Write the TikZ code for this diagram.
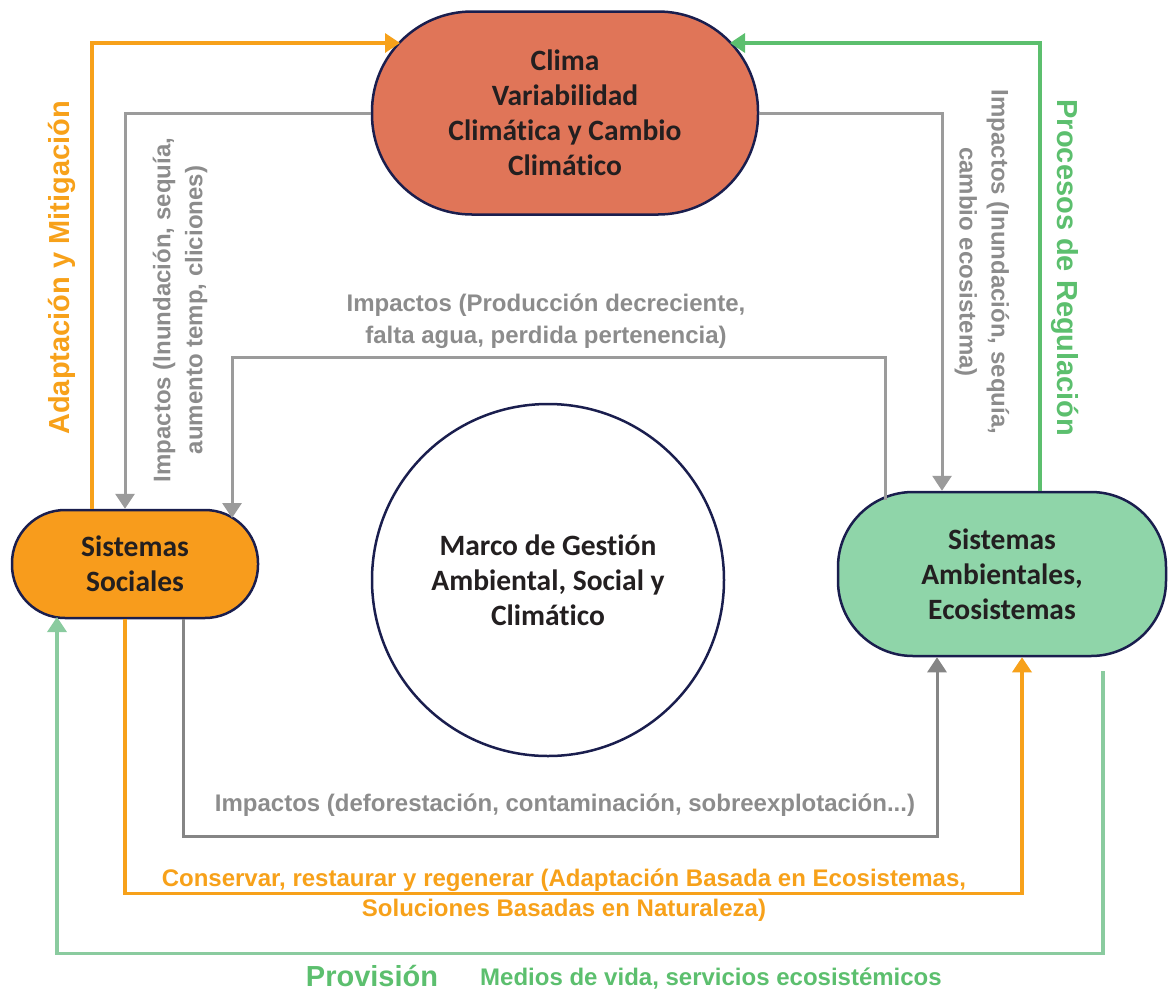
\documentclass[tikz,border=0pt]{standalone}
\usepackage{fontspec}
\setmainfont{Liberation Sans}
\newfontfamily\boxfont[Ligatures=NoCommon]{Carlito}
\usepackage{tikz}
\usetikzlibrary{arrows.meta, positioning, calc}

\definecolor{navy}{HTML}{1A1E4E}
\definecolor{ink}{HTML}{231F20}
\definecolor{climafill}{HTML}{E07558}
\definecolor{socfill}{HTML}{F89C1C}
\definecolor{ambfill}{HTML}{8FD5A9}
\definecolor{orline}{HTML}{F7A11A}
\definecolor{grline}{HTML}{5CBF6E}
\definecolor{provline}{HTML}{8ACB9F}
\definecolor{impline}{HTML}{9B9B9B}
\definecolor{impdarkline}{HTML}{858585}
\definecolor{graytxt}{HTML}{8C8C8C}

\begin{document}
\begin{tikzpicture}[
    x=1pt, y=-1pt,
    >={Triangle[length=15pt,width=19pt]},
    sysbox/.style={draw=navy, line width=2.5pt, text=ink, align=center, inner sep=0pt,
        font={\boxfont\bfseries\fontsize{29.5}{35}\selectfont}},
    lbl/.style={align=center, inner sep=0pt, font={\bfseries\fontsize{24}{32}\selectfont}},
    biglbl/.style={align=center, inner sep=0pt, font={\bfseries\fontsize{29}{35}\selectfont}},
    orflow/.style={->, draw=orline, line width=3.5pt},
    grflow/.style={->, draw=grline, line width=3.5pt},
    provflow/.style={->, draw=provline, line width=3.5pt},
    impflow/.style={->, draw=impline, line width=3pt},
    impdark/.style={->, draw=impdarkline, line width=3pt}
]
\useasboundingbox (0,0) rectangle (1168,994);

% Main systems
\node[sysbox, fill=climafill, minimum width=386pt, minimum height=203pt, rounded corners=100pt]
    (clima) at (565,113) {\raisebox{-4pt}{\parbox{300pt}{\centering Clima\\Variabilidad\\Climática y Cambio\\Climático}}};
\node[sysbox, fill=socfill, minimum width=246pt, minimum height=108pt, rounded corners=53pt]
    (soc) at (135,564) {Sistemas\\Sociales};
\node[sysbox, fill=ambfill, minimum width=328pt, minimum height=164pt, rounded corners=75pt]
    (amb) at (1002,574) {Sistemas\\Ambientales,\\Ecosistemas};
\node[sysbox, circle, fill=white, minimum size=352pt]
    (marco) at (548,580) {Marco de Gestión\\Ambiental, Social y\\Climático};

% Upper loops to the climate node
\draw[orflow] ([xshift=-43pt]soc.north) |- ([shift={(-165,-70)}]clima.center);
\draw[grflow] ([xshift=38pt]amb.north) |- ([shift={(165,-70)}]clima.center);
\draw[impflow] (clima.west) -| ([xshift=-10pt]soc.north);
\draw[impflow] (clima.east) -| ([xshift=-60pt]amb.north);

% Ecosystems -> society
\draw[impflow] ([shift={(-117,-74)}]amb.center) -- ++(0,-143) -| ([shift={(97,-46)}]soc.center);

% Lower loops
\draw[impdark] ([xshift=48pt]soc.south) -- ++(0,217) -| ([xshift=-65pt]amb.south);
\draw[orflow] ([xshift=-10pt]soc.south) -- ++(0,274) -| ([xshift=20pt]amb.south);
\draw[provflow] ([shift={(101,14)}]amb.south) -- ++(0,282) -| ([shift={(-78,53)}]soc.center);

% Labels
\node[biglbl, text=orline, rotate=90] (adaptlbl) at (62,268) {Adaptación y Mitigación};
\node[biglbl, text=grline, rotate=-90] (proclbl) at (1065,268) {Procesos de Regulación};
\node[lbl, text=graytxt, rotate=90] (impsoclbl) at (180,310) {Impactos (Inundación, sequía,\\aumento temp, cliciones)};
\node[lbl, text=graytxt, rotate=-90] (impamblbl) at (982,262) {Impactos (Inundación, sequía,\\cambio ecosistema)};
\node[lbl, text=graytxt] (prodlbl) at (546,321) {Impactos (Producción decreciente,\\falta agua, perdida pertenencia)};
\node[lbl, text=graytxt] (deflbl) at (565,805) {Impactos (deforestación, contaminación, sobreexplotación...)};
\node[lbl, text=orline, font={\bfseries\fontsize{24}{30}\selectfont}] (conslbl) at (564,895)
    {Conservar, restaurar y regenerar (Adaptación Basada en Ecosistemas,\\Soluciones Basadas en Naturaleza)};
\node[biglbl, text=grline] (provlbl) at (372,976) {Provisión};
\node[lbl, text=grline] (medioslbl) at (711,979) {Medios de vida, servicios ecosistémicos};

\end{tikzpicture}
\end{document}
